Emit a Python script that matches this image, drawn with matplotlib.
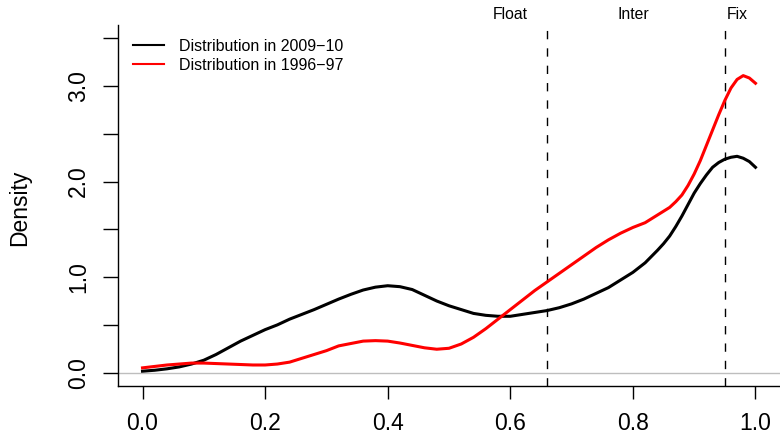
import matplotlib
matplotlib.use("Agg")
import matplotlib.pyplot as plt

# ---- data ----
grid = [0.00, 0.02, 0.04, 0.06, 0.08, 0.10, 0.12, 0.14, 0.16, 0.18,
        0.20, 0.22, 0.24, 0.26, 0.28, 0.30, 0.32, 0.34, 0.36, 0.38,
        0.40, 0.42, 0.44, 0.46, 0.48, 0.50, 0.52, 0.54, 0.56, 0.58,
        0.60, 0.62, 0.64, 0.66, 0.68, 0.70, 0.72, 0.74, 0.76, 0.78,
        0.80, 0.82, 0.84, 0.85, 0.86, 0.87, 0.88, 0.89, 0.90, 0.91,
        0.92, 0.93, 0.94, 0.95, 0.96, 0.97, 0.98, 0.99, 1.00]

dens_2009 = [0.015, 0.025, 0.04, 0.06, 0.09, 0.13, 0.19, 0.26, 0.33, 0.39,
             0.45, 0.50, 0.56, 0.61, 0.66, 0.715, 0.77, 0.82, 0.865, 0.895,
             0.91, 0.90, 0.87, 0.81, 0.75, 0.70, 0.66, 0.62, 0.60, 0.59,
             0.59, 0.61, 0.63, 0.65, 0.68, 0.72, 0.77, 0.83, 0.89, 0.97,
             1.05, 1.15, 1.28, 1.35, 1.43, 1.53, 1.64, 1.76, 1.88, 1.98,
             2.07, 2.15, 2.20, 2.235, 2.255, 2.265, 2.245, 2.21, 2.15]

dens_1996 = [0.05, 0.065, 0.08, 0.09, 0.10, 0.10, 0.095, 0.09, 0.085, 0.08,
             0.08, 0.09, 0.11, 0.15, 0.19, 0.23, 0.28, 0.305, 0.33, 0.335,
             0.33, 0.31, 0.285, 0.26, 0.245, 0.255, 0.30, 0.37, 0.46, 0.56,
             0.66, 0.76, 0.86, 0.95, 1.04, 1.13, 1.22, 1.31, 1.39, 1.46,
             1.52, 1.57, 1.65, 1.69, 1.73, 1.79, 1.86, 1.96, 2.08, 2.22,
             2.38, 2.54, 2.70, 2.85, 2.98, 3.07, 3.11, 3.085, 3.03]

series_labels = ["Distribution in 2009\u221210", "Distribution in 1996\u221297"]
regime_cuts = [0.66, 0.95]
regime_names = ["Float", "Inter", "Fix"]
regime_pos = [0.60, 0.80, 0.97]

x_ticks = [0.0, 0.2, 0.4, 0.6, 0.8, 1.0]
x_ticklabels = ["0.0", "0.2", "0.4", "0.6", "0.8", "1.0"]
y_major = [0.0, 1.0, 2.0, 3.0]
y_major_labels = ["0.0", "1.0", "2.0", "3.0"]
y_minor = [0.5, 1.5, 2.5, 3.5]

plt.rcParams['font.family'] = ['Liberation Sans', 'DejaVu Sans']

W, H = 780, 434
fig = plt.figure(figsize=(W / 100, H / 100), dpi=100)
ax = fig.add_axes([118 / W, 48 / H, 662 / W, 361 / H])

ax.axhline(0, color="#BEBEBE", lw=1.0, zorder=1)
for c in regime_cuts:
    ax.axvline(c, color="black", lw=1.0, linestyle=(0, (6, 6.5)), zorder=2)

ax.plot(grid, dens_2009, color="black", lw=2.2, label=series_labels[0],
        zorder=3, solid_joinstyle="round")
ax.plot(grid, dens_1996, color="#FF0000", lw=2.2, label=series_labels[1],
        zorder=3, solid_joinstyle="round")

ax.set_xlim(-0.04, 1.04)
ax.set_ylim(-0.14, 3.64)

for name, xp in zip(regime_names, regime_pos):
    ax.text(xp, 3.75, name, ha="center", va="center", fontsize=11.3, clip_on=False)

for s in ["top", "right"]:
    ax.spines[s].set_visible(False)
for s in ["left", "bottom"]:
    ax.spines[s].set_linewidth(1.0)

ax.set_xticks(x_ticks)
ax.set_xticklabels(x_ticklabels)
ax.set_yticks(y_major + y_minor)
ax.set_yticklabels(y_major_labels + [""] * len(y_minor))
ax.tick_params(axis="both", direction="out", length=10.5, width=1.0,
               labelsize=16.5, pad=9.5)
ax.tick_params(axis="x", length=9.5)
for lab in ax.get_yticklabels():
    lab.set_rotation(90)
    lab.set_va("center")

ax.set_ylabel("Density", fontsize=16.5, va="center", ha="center")
ax.yaxis.set_label_coords((20 - 118) / 662, (386 - 208) / 361)

leg = ax.legend(loc="upper left", bbox_to_anchor=((133 - 118) / 662, (386 - 39) / 361),
                frameon=False, fontsize=11.5, handlelength=1.95, handletextpad=0.95,
                labelspacing=0.25, borderaxespad=0, borderpad=0)
for ln in leg.get_lines():
    ln.set_linewidth(1.5)

fig.savefig("out.png", dpi=100)
